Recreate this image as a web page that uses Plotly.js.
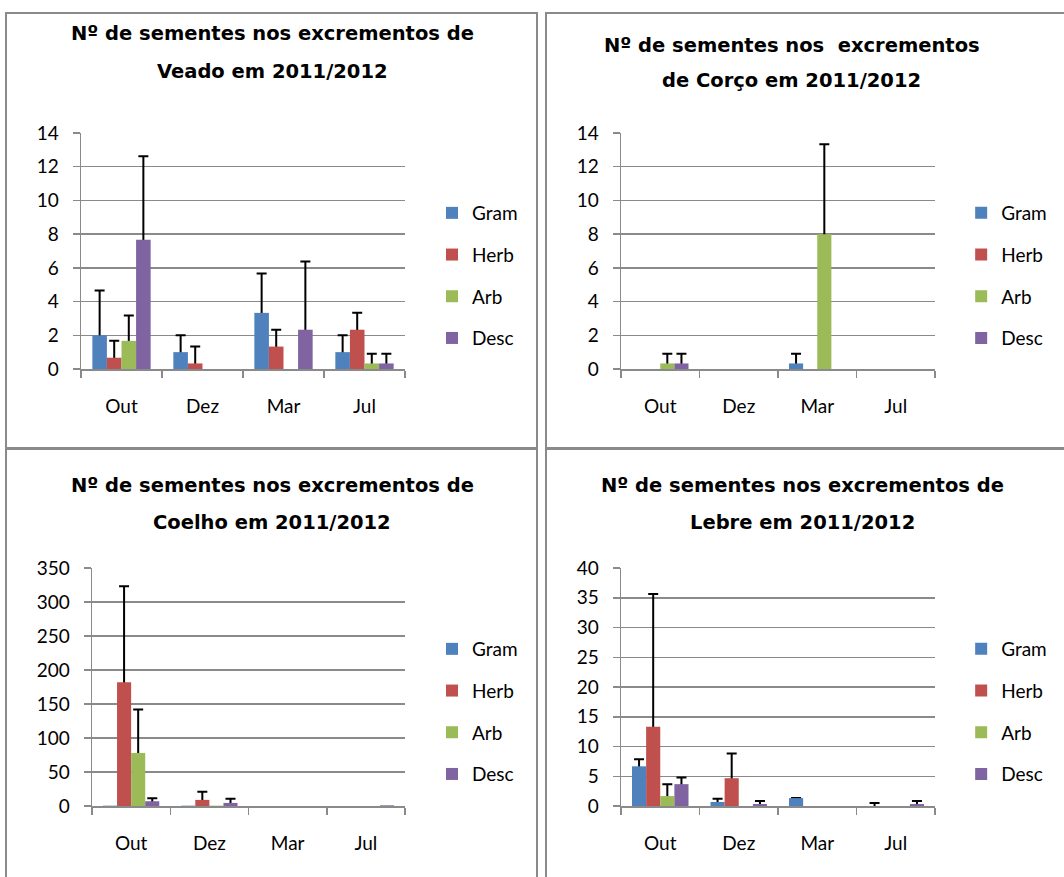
<!DOCTYPE html>
<html><head><meta charset="utf-8">
<script src="https://cdn.plot.ly/plotly-3.0.1.min.js"></script>
<style>
body{margin:0;background:#fff;width:1064px;height:877px;overflow:hidden;position:relative}
.p{position:absolute}
.b{position:absolute;border:2px solid #8a8a8a;box-sizing:border-box;pointer-events:none}
</style></head><body>
<div id="c1" class="p" style="left:0;top:0;width:542px;height:449px"></div>
<div id="c2" class="p" style="left:542px;top:0;width:522px;height:449px"></div>
<div id="c3" class="p" style="left:0;top:449px;width:542px;height:428px"></div>
<div id="c4" class="p" style="left:542px;top:449px;width:522px;height:428px"></div>
<div class="b" style="left:5px;top:12px;width:533px;height:437px"></div>
<div class="b" style="left:545px;top:12px;width:530px;height:437px"></div>
<div class="b" style="left:5px;top:448px;width:533px;height:440px"></div>
<div class="b" style="left:545px;top:448px;width:530px;height:440px"></div>
<script>
// ---- data ----
const months = ['Out', 'Dez', 'Mar', 'Jul'];
const seriesNames = ['Gram', 'Herb', 'Arb', 'Desc'];
const colors = ['#4F81BD', '#C0504D', '#9BBB59', '#8064A2'];

// Veado
const veadoGram = [2.0, 1.0, 3.33, 1.0];
const veadoHerb = [0.67, 0.33, 1.33, 2.33];
const veadoArb  = [1.67, 0, 0, 0.33];
const veadoDesc = [7.67, 0, 2.33, 0.33];
const veadoGramErr = [2.65, 1.0, 2.33, 1.0];
const veadoHerbErr = [1.0, 1.0, 1.0, 1.0];
const veadoArbErr  = [1.5, null, null, 0.57];
const veadoDescErr = [4.95, null, 4.05, 0.57];

// Corço
const corcoGram = [0, 0, 0.33, 0];
const corcoHerb = [0, 0, 0, 0];
const corcoArb  = [0.33, 0, 8.0, 0];
const corcoDesc = [0.33, 0, 0, 0];
const corcoGramErr = [null, null, 0.57, null];
const corcoHerbErr = [null, null, null, null];
const corcoArbErr  = [0.57, null, 5.33, null];
const corcoDescErr = [0.57, null, null, null];

// Coelho
const coelhoGram = [0.5, 0.5, 0, 0];
const coelhoHerb = [182, 9, 0, 0];
const coelhoArb  = [78, 0.5, 0, 0];
const coelhoDesc = [7, 4.5, 0, 1];
const coelhoGramErr = [null, null, null, null];
const coelhoHerbErr = [141, 12, null, null];
const coelhoArbErr  = [64, null, null, null];
const coelhoDescErr = [4.3, 6.3, null, null];

// Lebre
const lebreGram = [6.67, 0.67, 1.33, 0];
const lebreHerb = [13.33, 4.67, 0, 0];
const lebreArb  = [1.67, 0, 0, 0];
const lebreDesc = [3.67, 0.33, 0, 0.33];
const lebreGramErr = [1.2, 0.55, 0, 0.5];
const lebreHerbErr = [22.3, 4.15, null, null];
const lebreArbErr  = [2.0, null, null, null];
const lebreDescErr = [1.1, 0.5, null, 0.5];

// ---- panels (layout only) ----
const panels = [
  {id:'c1', title:['Nº de sementes nos excrementos de', 'Veado em 2011/2012'],
   vals:[veadoGram, veadoHerb, veadoArb, veadoDesc], errs:[veadoGramErr, veadoHerbErr, veadoArbErr, veadoDescErr],
   yMax:14, dtick:2, ox:0, oy:0, W:542, H:449, m:{l:81, r:137, t:133, b:80},
   tx:272, ty:[33.5, 71.5], lx:453, ly:212},
  {id:'c2', title:['Nº de sementes nos  excrementos', 'de Corço em 2011/2012'],
   vals:[corcoGram, corcoHerb, corcoArb, corcoDesc], errs:[corcoGramErr, corcoHerbErr, corcoArbErr, corcoDescErr],
   yMax:14, dtick:2, ox:542, oy:0, W:522, H:449, m:{l:79, r:119, t:133, b:80},
   tx:797, ty:[46, 81], lx:993, ly:212},
  {id:'c3', title:['Nº de sementes nos excrementos de', 'Coelho em 2011/2012'],
   vals:[coelhoGram, coelhoHerb, coelhoArb, coelhoDesc], errs:[coelhoGramErr, coelhoHerbErr, coelhoArbErr, coelhoDescErr],
   yMax:350, dtick:50, ox:0, oy:449, W:542, H:428, m:{l:92, r:137, t:119, b:71},
   tx:272, ty:[486, 522], lx:453, ly:648},
  {id:'c4', title:['Nº de sementes nos excrementos de', 'Lebre em 2011/2012'],
   vals:[lebreGram, lebreHerb, lebreArb, lebreDesc], errs:[lebreGramErr, lebreHerbErr, lebreArbErr, lebreDescErr],
   yMax:40, dtick:5, ox:542, oy:449, W:522, H:428, m:{l:79, r:119, t:119, b:71},
   tx:808, ty:[486, 522], lx:993, ly:648}
];

const gridC = '#8a8a8a';
const tickFont = {family:'Lato, "Open Sans", sans-serif', size:19, color:'#000'};

panels.forEach(p => {
  const pw = p.W - p.m.l - p.m.r, ph = p.H - p.m.t - p.m.b;
  const fx = px => (px - p.ox - p.m.l) / pw;
  const fy = py => 1 - (py - p.oy - p.m.t) / ph;
  const traces = [];
  // error bars layer (underneath), transparent bars
  p.vals.forEach((v, i) => {
    const e = p.errs[i];
    traces.push({
      type:'bar', x:months, y:v, xaxis:'x', yaxis:'y', showlegend:false, hoverinfo:'skip',
      marker:{color:'rgba(0,0,0,0)'},
      error_y:{type:'data', symmetric:false, visible:true,
        array: e.map(x => x == null ? NaN : x),
        arrayminus: e.map((x, k) => x == null ? NaN : v[k] + p.yMax * 2),
        color:'#000', thickness:2, width:5}
    });
  });
  // coloured bars on top
  p.vals.forEach((v, i) => {
    traces.push({
      type:'bar', x:months, y:v, xaxis:'x2', yaxis:'y2', name:seriesNames[i],
      legendgroup:seriesNames[i], marker:{color:colors[i], line:{width:0}}, hoverinfo:'skip'
    });
  });
  const layout = {
    width:p.W, height:p.H, margin:p.m, paper_bgcolor:'rgba(0,0,0,0)', plot_bgcolor:'rgba(0,0,0,0)',
    barmode:'group', bargap:0.28, bargroupgap:0,
    font:{family:'Lato, sans-serif', size:19, color:'#000'},
    xaxis:{type:'category', categoryorder:'array', categoryarray:months, range:[-0.5, 3.5],
      showline:true, linecolor:gridC, linewidth:1.5, ticks:'outside', tickson:'boundaries',
      ticklen:7, tickwidth:1.5, tickcolor:gridC, showgrid:false, zeroline:false,
      tickfont:tickFont, ticklabelstandoff:20, fixedrange:true},
    yaxis:{range:[0, p.yMax], tick0:0, dtick:p.dtick, showgrid:true, gridcolor:gridC, gridwidth:1.5,
      showline:true, linecolor:gridC, linewidth:1.5, ticks:'outside', ticklen:7, tickwidth:1.5,
      tickcolor:gridC, zeroline:false, tickfont:tickFont, ticklabelstandoff:10, fixedrange:true},
    xaxis2:{type:'category', categoryorder:'array', categoryarray:months, range:[-0.5, 3.5],
      overlaying:'x', visible:false, fixedrange:true},
    yaxis2:{range:[0, p.yMax], overlaying:'y', visible:false, fixedrange:true},
    showlegend:true,
    legend:{x:fx(p.lx - 21), xanchor:'left', y:fy(p.ly - 18), yanchor:'top',
      font:{family:'Lato, sans-serif', size:19, color:'#000'}, tracegroupgap:14,
      traceorder:'grouped', bgcolor:'rgba(0,0,0,0)', borderwidth:0},
    annotations: p.title.map((t, k) => ({
      text:t, xref:'paper', yref:'paper', x:fx(p.tx), y:fy(p.ty[k]), xanchor:'center', yanchor:'middle',
      showarrow:false, font:{family:'"DejaVu Sans", sans-serif', size:19.5, color:'#000', weight:'bold'}
    }))
  };
  Plotly.newPlot(p.id, traces, layout, {staticPlot:true, displayModeBar:false});
});
</script>
</body></html>
